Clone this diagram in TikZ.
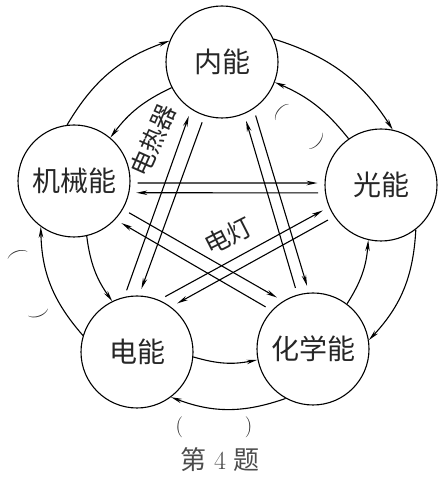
\documentclass[tikz,border=0pt]{standalone}
\usepackage{fontspec}
\newfontfamily\cjk{Noto Sans CJK SC}
\usetikzlibrary{arrows.meta}

\begin{document}
\begin{tikzpicture}[x=1pt, y=1pt,
  energy/.style={circle, draw, line width=1.1pt, minimum size=112pt, inner sep=0pt, font=\cjk\fontsize{28}{32}\selectfont, text=black!85},
  arrow/.style={-{Stealth[length=11pt, width=4.5pt]}, line width=1.1pt},
  outer/.style={arrow, bend left=20},
  inner/.style={arrow, bend right=14},
  pair/.style={arrow, shorten <=7pt, shorten >=7pt},
  label/.style={font=\cjk\fontsize{25}{28}\selectfont, text=black!85, inner sep=0pt},
  blank/.style={font=\fontsize{21}{24}\selectfont, text=black!85, inner sep=0pt},
]
\useasboundingbox (0,0) rectangle (441,479);

% === energy forms ===
\node[energy] (nei) at (222,417) {内能};
\node[energy] (guang) at (381,294) {光能};
\node[energy] (hua) at (313,130) {化学能};
\node[energy] (dian) at (137,127) {电能};
\node[energy] (mech) at (74,298) {机械能};

% === outer ring ===
\draw[outer] (mech.97) to (nei.158);
\draw[outer] (nei.24) to (guang.78);
\draw[outer] (guang.308) to (hua.9);
\draw[outer] (hua.241) to (dian.307);
\draw[outer] (dian.163) to (mech.234);

% === inner ring ===
\draw[inner] (nei.207) to (mech.50);
\draw[inner] (guang.125) to (nei.339);
\draw[inner] (hua.53) to (guang.257);
\draw[inner] (dian.355) to (hua.191);
\draw[inner] (mech.283) to (dian.116);

% === straight pairs ===
\draw[pair] (dian.103) -- (nei.237);
\draw[pair] (nei.252) -- (dian.88);
\draw[pair] (hua.106) -- (nei.293);
\draw[pair] (nei.304) -- (hua.94);
\draw[pair] (mech.330) -- (hua.122);
\draw[pair] (hua.137) -- (mech.317);
\draw[pair] (dian.67) -- (guang.203);
\draw[pair] (guang.214) -- (dian.53);
\draw[pair] (mech.358) -- (guang.178);
\draw[pair] (guang.188) -- (mech.348);

% === labels and blanks ===
\node[label, rotate=66] (heater) at (153,339) {电热器};
\node[label, rotate=27] (lamp) at (228,243) {电灯};
\node[blank, rotate=-40] (b1) at (299,352) {(\hspace{42pt})};
\node[blank, rotate=-70] (b2) at (28,195) {(\hspace{58pt})};
\node[blank] (b3) at (214,52) {(\hspace{62pt})};
\node[font=\cjk\fontsize{26}{30}\selectfont, text=black!70] (title) at (220,19) {第\hspace{8pt}{\rmfamily 4}\hspace{8pt}题};

\end{tikzpicture}
\end{document}
